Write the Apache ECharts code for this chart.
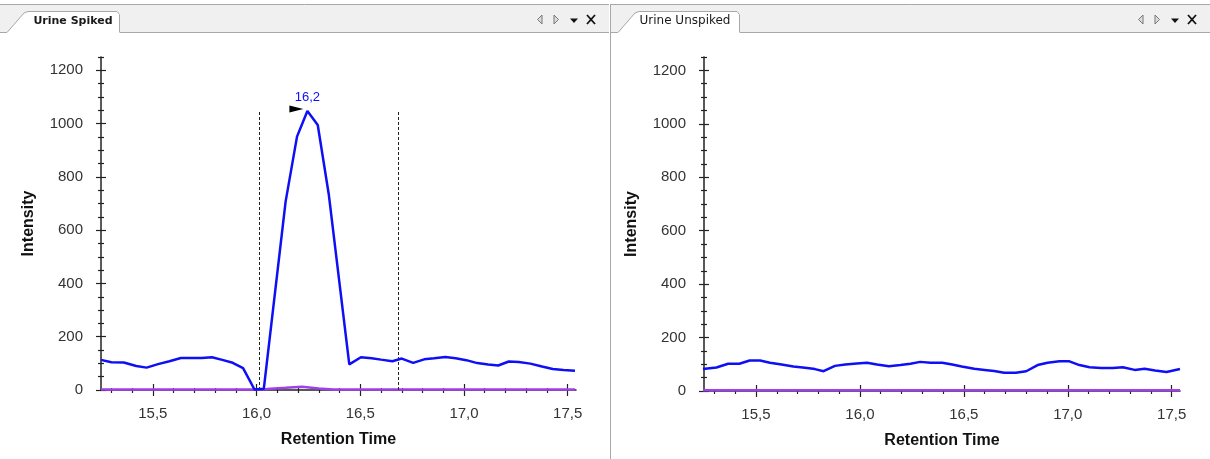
<!DOCTYPE html>
<html>
<head>
<meta charset="utf-8">
<script src="https://cdn.jsdelivr.net/npm/echarts@6/dist/echarts.min.js"></script>
<style>
html,body{margin:0;padding:0;background:#fff;}
#chart{width:1210px;height:459px;}
</style>
</head>
<body>
<div id="chart"></div>
<script>
// ---------- data ----------
const panelTitles = ['Urine Spiked', 'Urine Unspiked'];
const xAxisTitle = 'Retention Time';
const yAxisTitle = 'Intensity';
const xMajorTicks = [15.5, 16.0, 16.5, 17.0, 17.5];
const xMinorTicks = [15.3, 15.4, 15.6, 15.7, 15.8, 15.9, 16.1, 16.2, 16.3, 16.4, 16.6, 16.7, 16.8, 16.9, 17.1, 17.2, 17.3, 17.4];
const yMajorTicks = [0, 200, 400, 600, 800, 1000, 1200];
const yMinorTicks = [50, 100, 150, 250, 300, 350, 450, 500, 550, 650, 700, 750, 850, 900, 950, 1050, 1100, 1150, 1250];

const spikedTime = [15.25, 15.30, 15.36, 15.42, 15.47, 15.525, 15.58, 15.635, 15.685, 15.735, 15.785, 15.835, 15.885, 15.935, 15.99, 16.035, 16.14, 16.195, 16.245, 16.295, 16.348, 16.447, 16.503, 16.555, 16.60, 16.655, 16.70, 16.755, 16.808, 16.856, 16.91, 16.96, 17.011, 17.064, 17.117, 17.165, 17.216, 17.264, 17.32, 17.376, 17.428, 17.48, 17.535];
const spikedBlue = [113, 104, 103, 90, 84, 97, 108, 120, 120, 120, 123, 113, 102, 82, 2, 5, 707, 951, 1047, 995, 735, 96, 123, 119, 114, 108, 118, 102, 115, 119, 124, 119, 112, 101, 96, 92, 107, 105, 99, 88, 79, 75, 72];
const spikedPurpleTime = [15.25, 15.99, 16.05, 16.14, 16.22, 16.30, 16.37, 17.535];
const spikedPurple = [2, 2, 4, 8, 12, 6, 2, 2];

const unspikedTime = [15.245, 15.31, 15.366, 15.42, 15.47, 15.52, 15.567, 15.623, 15.68, 15.736, 15.784, 15.825, 15.88, 15.93, 15.985, 16.034, 16.082, 16.14, 16.195, 16.243, 16.29, 16.34, 16.396, 16.444, 16.49, 16.55, 16.60, 16.646, 16.694, 16.75, 16.80, 16.855, 16.903, 16.96, 17.008, 17.056, 17.105, 17.16, 17.217, 17.265, 17.322, 17.37, 17.42, 17.475, 17.54];
const unspikedBlue = [82, 88, 102, 102, 114, 114, 106, 99, 92, 87, 82, 74, 94, 99, 103, 106, 99, 93, 97, 102, 109, 106, 106, 99, 92, 83, 79, 75, 68, 68, 74, 97, 106, 111, 111, 97, 89, 86, 86, 89, 79, 83, 77, 71, 82];
const unspikedPurpleTime = [15.245, 17.54];
const unspikedPurple = [3, 3];

const peakLabel = '16,2';
const peakTime = 16.245, peakValue = 1047;
const integrationBounds = [16.014, 16.683];
const boundTop = 1045;

// ---------- layout / style ----------
const X_MIN = 15.25, X_MAX = 17.54, Y_MIN = 0, Y_MAX = 1250;
const BLUE = '#0f0ff5', PURPLE = '#a040e6', AXIS = '#222';
const FONT = 'Liberation Sans';
const grids = [
  {left: 101, top: 57, width: 475, height: 333},
  {left: 704, top: 57, width: 476, height: 334}
];

const zip = (a, b) => a.map((v, i) => [v, b[i]]);
const fmtX = v => v.toFixed(1).replace('.', ',');
const fmtY = v => String(v);

const xAxes = [], yAxes = [];
grids.forEach((g, gi) => {
  const tickStyle = {color: AXIS, width: 1.2};
  const baseX = {type: 'value', gridIndex: gi, min: X_MIN, max: X_MAX, position: 'bottom', offset: 0};
  const baseY = {type: 'value', gridIndex: gi, min: Y_MIN, max: Y_MAX, position: 'left', offset: 0};
  xAxes.push(Object.assign({}, baseX, {
    axisLine: {show: true, onZero: false, lineStyle: {color: AXIS, width: 1.5}},
    axisTick: {show: true, customValues: xMajorTicks, length: 6, inside: false, lineStyle: tickStyle},
    axisLabel: {show: true, customValues: xMajorTicks, formatter: fmtX, fontSize: 15, color: '#333', margin: 16, fontFamily: FONT},
    splitLine: {show: false},
    name: xAxisTitle, nameLocation: 'middle', nameGap: 42,
    nameTextStyle: {fontSize: 16, fontWeight: 'bold', color: '#111', fontFamily: FONT}
  }));
  xAxes.push(Object.assign({}, baseX, {
    axisLine: {show: false, onZero: false}, axisLabel: {show: false}, splitLine: {show: false},
    axisTick: {show: true, customValues: xMajorTicks, length: 6, inside: true, lineStyle: tickStyle}
  }));
  xAxes.push(Object.assign({}, baseX, {
    axisLine: {show: false, onZero: false}, axisLabel: {show: false}, splitLine: {show: false},
    axisTick: {show: true, customValues: xMinorTicks, length: 3, inside: false, lineStyle: tickStyle}
  }));
  xAxes.push(Object.assign({}, baseX, {
    axisLine: {show: false, onZero: false}, axisLabel: {show: false}, splitLine: {show: false},
    axisTick: {show: true, customValues: xMinorTicks, length: 2, inside: true, lineStyle: tickStyle}
  }));
  yAxes.push(Object.assign({}, baseY, {
    axisLine: {show: true, onZero: false, lineStyle: {color: AXIS, width: 1.5}},
    axisTick: {show: true, customValues: yMajorTicks, length: 5, inside: false, lineStyle: tickStyle},
    axisLabel: {show: true, customValues: yMajorTicks, formatter: fmtY, fontSize: 15, color: '#333', margin: 18, fontFamily: FONT},
    splitLine: {show: false},
    name: yAxisTitle, nameLocation: 'middle', nameGap: 64, nameRotate: 90,
    nameTextStyle: {fontSize: 16, fontWeight: 'bold', color: '#111', fontFamily: FONT}
  }));
  yAxes.push(Object.assign({}, baseY, {
    axisLine: {show: false, onZero: false}, axisLabel: {show: false}, splitLine: {show: false},
    axisTick: {show: true, customValues: yMajorTicks, length: 5, inside: true, lineStyle: tickStyle}
  }));
  yAxes.push(Object.assign({}, baseY, {
    axisLine: {show: false, onZero: false}, axisLabel: {show: false}, splitLine: {show: false},
    axisTick: {show: true, customValues: yMinorTicks, length: 3, inside: false, lineStyle: tickStyle}
  }));
  yAxes.push(Object.assign({}, baseY, {
    axisLine: {show: false, onZero: false}, axisLabel: {show: false}, splitLine: {show: false},
    axisTick: {show: true, customValues: yMinorTicks, length: 3, inside: true, lineStyle: tickStyle}
  }));
});

function lineSeries(gi, data, color, width, z) {
  return {
    type: 'line', xAxisIndex: gi * 4, yAxisIndex: gi * 4, data: data,
    showSymbol: false, symbol: 'none', smooth: false, clip: true,
    lineStyle: {color: color, width: width}, itemStyle: {color: color}, z: z
  };
}

const spikedBlueSeries = lineSeries(0, zip(spikedTime, spikedBlue), BLUE, 2.5, 5);
spikedBlueSeries.markLine = {
  silent: true, symbol: ['none', 'none'], label: {show: false},
  lineStyle: {type: [3, 2], color: '#222', width: 1},
  data: integrationBounds.map(t => [{coord: [t, 0]}, {coord: [t, boundTop]}])
};
spikedBlueSeries.markPoint = {
  silent: true,
  data: [
    {coord: [peakTime, peakValue], symbol: 'path://M0,0L14,3.5L0,7Z', symbolSize: [14, 7], symbolOffset: [-11, -2],
     itemStyle: {color: '#000'}, label: {show: false}},
    {coord: [peakTime, peakValue], symbol: 'circle', symbolSize: 1, itemStyle: {color: 'rgba(0,0,0,0)'},
     label: {show: true, formatter: peakLabel, position: 'inside', offset: [0, -14], color: BLUE, fontSize: 13, fontFamily: FONT}}
  ]
};

const series = [
  lineSeries(0, zip(spikedPurpleTime, spikedPurple), PURPLE, 2.5, 3),
  spikedBlueSeries,
  lineSeries(1, zip(unspikedPurpleTime, unspikedPurple), PURPLE, 2.5, 3),
  lineSeries(1, zip(unspikedTime, unspikedBlue), BLUE, 2.5, 5)
];

// ---------- window chrome (tabs) ----------
const GRAY = '#a8a8a8';
function tabChrome(x0, x1, tabRight, title, bold, textX) {
  const els = [];
  els.push({type: 'rect', shape: {x: x0, y: 4, width: x1 - x0, height: 28}, style: {fill: '#f0f0f0'}, silent: true});
  els.push({type: 'line', shape: {x1: x0, y1: 4.5, x2: x1, y2: 4.5}, style: {stroke: GRAY, lineWidth: 1}, silent: true});
  els.push({type: 'line', shape: {x1: tabRight, y1: 32.5, x2: x1, y2: 32.5}, style: {stroke: GRAY, lineWidth: 1}, silent: true});
  els.push({type: 'line', shape: {x1: x0, y1: 32.5, x2: x0 + 7, y2: 32.5}, style: {stroke: GRAY, lineWidth: 1}, silent: true});
  const tl = x0 + 7;
  els.push({type: 'polygon', shape: {points: [[tl, 33], [tl + 17, 13], [tl + 21, 11.5], [tabRight - 3, 11.5], [tabRight, 14.5], [tabRight, 33]]},
            style: {fill: '#ffffff', stroke: 'none'}, silent: true});
  els.push({type: 'polyline', shape: {points: [[tl, 32.5], [tl + 17, 13], [tl + 21, 11.5], [tabRight - 3, 11.5], [tabRight - 0.5, 14.5], [tabRight - 0.5, 32.5]]},
            style: {stroke: GRAY, lineWidth: 1, fill: 'none'}, silent: true});
  els.push({type: 'text', style: {text: title, x: textX, y: 21, textAlign: 'center', textVerticalAlign: 'middle',
            font: (bold ? 'bold 11px' : '12px') + ' "DejaVu Sans", sans-serif', fill: '#1a1a1a'}, silent: true});
  // icons
  const iy = 19.5, ix = x1 - 70;
  els.push({type: 'polygon', shape: {points: [[ix + 3, iy - 4.5], [ix - 1.5, iy], [ix + 3, iy + 4.5]]}, style: {fill: '#dcdcdc', stroke: '#777', lineWidth: 1}, silent: true});
  els.push({type: 'polygon', shape: {points: [[ix + 15, iy - 4.5], [ix + 19.5, iy], [ix + 15, iy + 4.5]]}, style: {fill: '#dcdcdc', stroke: '#777', lineWidth: 1}, silent: true});
  els.push({type: 'polygon', shape: {points: [[ix + 31, iy - 1], [ix + 39, iy - 1], [ix + 35, iy + 3.5]]}, style: {fill: '#111'}, silent: true});
  els.push({type: 'line', shape: {x1: ix + 48, y1: iy - 4.5, x2: ix + 56, y2: iy + 4.5}, style: {stroke: '#111', lineWidth: 1.8}, silent: true});
  els.push({type: 'line', shape: {x1: ix + 56, y1: iy - 4.5, x2: ix + 48, y2: iy + 4.5}, style: {stroke: '#111', lineWidth: 1.8}, silent: true});
  return els;
}
const graphics = [].concat(
  tabChrome(0, 609, 120, panelTitles[0], true, 73),
  tabChrome(611, 1210, 740, panelTitles[1], false, 685),
  [{type: 'line', shape: {x1: 610.5, y1: 4, x2: 610.5, y2: 459}, style: {stroke: GRAY, lineWidth: 1}, silent: true}]
);

const chart = echarts.init(document.getElementById('chart'), null, {renderer: 'canvas'});
chart.setOption({
  animation: false,
  backgroundColor: '#ffffff',
  grid: grids.map(g => Object.assign({containLabel: false}, g)),
  xAxis: xAxes,
  yAxis: yAxes,
  series: series,
  graphic: graphics
});
</script>
</body>
</html>
